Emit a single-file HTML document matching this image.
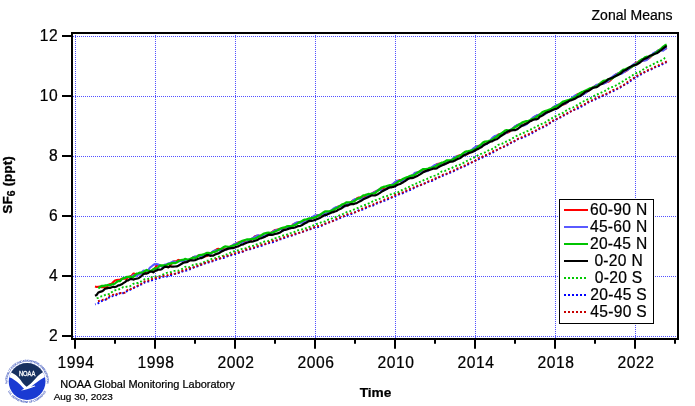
<!DOCTYPE html>
<html><head><meta charset="utf-8"><title>Zonal Means SF6</title>
<style>
html,body{margin:0;padding:0;background:#fff;}
body{width:695px;height:406px;overflow:hidden;}
svg{display:block;font-family:"Liberation Sans",Helvetica,Arial,sans-serif;}
svg>text,.tk text,.lg{stroke:#000;stroke-width:0.22px;}
.tk{font-size:15.6px;fill:#000;letter-spacing:0.6px;}
.lg{font-size:15.6px;letter-spacing:0.3px;fill:#000;text-anchor:middle;}
</style></head><body>
<svg width="695" height="406" viewBox="0 0 695 406">
<rect x="0" y="0" width="695" height="406" fill="#fff"/>

<g stroke="#5050ff" stroke-width="1" stroke-dasharray="1 1" shape-rendering="crispEdges" fill="none">
<line x1="75.5" y1="35" x2="75.5" y2="338"/>
<line x1="155.5" y1="35" x2="155.5" y2="338"/>
<line x1="235.5" y1="35" x2="235.5" y2="338"/>
<line x1="315.5" y1="35" x2="315.5" y2="338"/>
<line x1="395.5" y1="35" x2="395.5" y2="338"/>
<line x1="475.5" y1="35" x2="475.5" y2="338"/>
<line x1="555.5" y1="35" x2="555.5" y2="338"/>
<line x1="635.5" y1="35" x2="635.5" y2="338"/>
<line x1="73" y1="36.5" x2="677" y2="36.5"/>
<line x1="73" y1="96.5" x2="677" y2="96.5"/>
<line x1="73" y1="156.5" x2="677" y2="156.5"/>
<line x1="73" y1="216.5" x2="677" y2="216.5"/>
<line x1="73" y1="276.5" x2="677" y2="276.5"/>
<line x1="73" y1="336.5" x2="677" y2="336.5"/>
</g>
<g fill="none" stroke-width="2" stroke-linejoin="round">
<path d="M95.0 286.5 L96.7 287.0 L98.3 286.7 L100.0 286.5 L101.7 287.3 L103.3 287.0 L105.0 287.2 L106.7 287.5 L108.3 285.2 L110.0 284.0 L111.7 283.7 L113.3 282.1 L115.0 280.5 L116.7 280.0 L118.3 279.8 L120.0 279.9 L121.7 278.7 L123.3 278.5 L125.0 278.8 L126.7 279.0 L128.3 276.9 L130.0 276.5 L131.7 275.7 L133.3 273.6 L135.0 273.9 L136.7 274.3 L138.3 273.9 L140.0 274.1 L141.7 272.7 L143.3 273.1 L145.0 273.2 L146.7 272.4 L148.3 272.5 L150.0 271.3 L151.7 271.0 L153.3 269.5 L155.0 268.0 L156.7 265.7 L158.3 265.1 L160.0 265.9 L161.7 266.0 L163.3 266.3 L165.0 266.4 L166.7 266.9 L168.3 267.1 L170.0 266.0 L171.7 263.6 L173.3 261.5 L175.0 261.4 L176.7 261.0 L178.3 259.9 L180.0 260.3 L181.7 260.8 L183.3 261.1 L185.0 261.4 L186.7 261.5 L188.3 261.2 L190.0 259.8 L191.7 258.5 L193.3 257.2 L195.0 256.9 L196.7 256.8 L198.3 255.7 L200.0 254.9 L201.7 255.7 L203.3 256.4 L205.0 256.5 L206.7 256.1 L208.3 255.3 L210.0 254.3 L211.7 252.5 L213.3 251.6 L215.0 250.5 L216.7 249.3 L218.3 248.8 L220.0 249.2 L221.7 249.2 L223.3 249.1 L225.0 249.5 L226.7 249.5 L228.3 248.2 L230.0 246.9 L231.7 246.0 L233.3 245.1 L235.0 244.0 L236.7 243.2 L238.3 242.5 L240.0 241.8 L241.7 241.7 L243.3 242.0 L245.0 242.1 L246.7 241.8 L248.3 241.4 L250.0 240.6 L251.7 239.5 L253.3 238.0 L255.0 236.2 L256.7 235.8 L258.3 235.9 L260.0 235.9 L261.7 236.0 L263.3 235.7 L265.0 235.7 L266.7 235.8 L268.3 234.9 L270.0 233.8 L271.7 232.3 L273.3 231.1 L275.0 230.0 L276.7 229.7 L278.3 229.4 L280.0 229.0 L281.7 228.8 L283.3 229.1 L285.0 229.6 L286.7 229.0 L288.3 228.2 L290.0 227.4 L291.7 226.1 L293.3 224.3 L295.0 223.7 L296.7 223.1 L298.3 222.2 L300.0 222.0 L301.7 222.0 L303.3 221.8 L305.0 221.7 L306.7 221.3 L308.3 220.5 L310.0 219.7 L311.7 218.8 L313.3 217.5 L315.0 216.3 L316.7 215.3 L318.3 215.2 L320.0 215.1 L321.7 214.6 L323.3 214.9 L325.0 214.8 L326.7 213.8 L328.3 212.9 L330.0 211.7 L331.7 210.6 L333.3 209.6 L335.0 208.4 L336.7 207.2 L338.3 206.5 L340.0 206.3 L341.7 206.2 L343.3 206.3 L345.0 206.0 L346.7 205.8 L348.3 204.6 L350.0 203.0 L351.7 201.5 L353.3 200.3 L355.0 199.8 L356.7 198.5 L358.3 197.6 L360.0 197.5 L361.7 198.0 L363.3 197.6 L365.0 197.1 L366.7 197.4 L368.3 196.2 L370.0 194.9 L371.7 194.0 L373.3 192.6 L375.0 191.7 L376.7 190.9 L378.3 190.1 L380.0 189.5 L381.7 189.2 L383.3 189.0 L385.0 189.2 L386.7 188.6 L388.3 187.3 L390.0 186.4 L391.7 185.5 L393.3 183.8 L395.0 182.6 L396.7 181.5 L398.3 180.7 L400.0 180.1 L401.7 180.5 L403.3 181.0 L405.0 180.6 L406.7 179.4 L408.3 178.5 L410.0 177.1 L411.7 175.9 L413.3 174.8 L415.0 173.2 L416.7 172.8 L418.3 172.3 L420.0 171.2 L421.7 171.7 L423.3 171.2 L425.0 170.8 L426.7 170.8 L428.3 170.4 L430.0 169.0 L431.7 168.2 L433.3 167.1 L435.0 165.6 L436.7 164.3 L438.3 163.8 L440.0 163.6 L441.7 163.9 L443.3 164.1 L445.0 164.1 L446.7 163.4 L448.3 162.3 L450.0 161.3 L451.7 160.0 L453.3 158.8 L455.0 157.6 L456.7 156.5 L458.3 155.7 L460.0 155.2 L461.7 154.9 L463.3 154.5 L465.0 154.7 L466.7 154.4 L468.3 153.6 L470.0 152.1 L471.7 150.5 L473.3 149.3 L475.0 147.8 L476.7 146.5 L478.3 146.0 L480.0 145.5 L481.7 144.9 L483.3 144.7 L485.0 144.2 L486.7 143.2 L488.3 142.3 L490.0 141.4 L491.7 140.0 L493.3 138.2 L495.0 137.0 L496.7 136.1 L498.3 134.6 L500.0 134.1 L501.7 134.0 L503.3 134.0 L505.0 133.3 L506.7 133.0 L508.3 132.3 L510.0 131.3 L511.7 129.6 L513.3 128.1 L515.0 126.7 L516.7 125.5 L518.3 124.8 L520.0 124.4 L521.7 124.6 L523.3 124.7 L525.0 124.0 L526.7 123.1 L528.3 121.9 L530.0 121.0 L531.7 120.2 L533.3 118.2 L535.0 116.4 L536.7 115.7 L538.3 115.2 L540.0 114.6 L541.7 114.4 L543.3 113.9 L545.0 113.5 L546.7 112.5 L548.3 111.8 L550.0 110.9 L551.7 109.1 L553.3 107.5 L555.0 106.5 L556.7 105.7 L558.3 105.2 L560.0 104.1 L561.7 104.2 L563.3 104.6 L565.0 104.1 L566.7 102.8 L568.3 101.5 L570.0 100.3 L571.7 98.9 L573.3 97.9 L575.0 96.5 L576.7 94.8 L578.3 94.0 L580.0 93.6 L581.7 93.2 L583.3 93.6 L585.0 93.1 L586.7 91.9 L588.3 90.8 L590.0 89.9 L591.7 88.3 L593.3 87.3 L595.0 86.0 L596.7 85.2 L598.3 84.7 L600.0 83.8 L601.7 83.3 L603.3 83.3 L605.0 82.9 L606.7 82.0 L608.3 81.8 L610.0 80.7 L611.7 79.0 L613.3 77.2 L615.0 75.1 L616.7 74.0 L618.3 73.6 L620.0 72.7 L621.7 71.5 L623.3 71.9 L625.0 71.7 L626.7 70.6 L628.3 69.3 L630.0 68.2 L631.7 67.0 L633.3 65.4 L635.0 63.5 L636.7 62.5 L638.3 61.9 L640.0 60.7 L641.7 60.3 L643.3 60.4 L645.0 60.1 L646.7 59.4 L648.3 58.7 L650.0 57.5 L651.7 55.6 L653.3 54.2 L655.0 52.6 L656.7 51.6 L658.3 50.5 L660.0 49.6 L661.7 48.9 L663.3 49.3 L665.0 49.1 L666.7 48.0" stroke="#ff0000" stroke-width="2.1"/>
<path d="M131.7 276.7 L133.3 275.4 L135.0 275.6 L136.7 275.8 L138.3 274.4 L140.0 274.4 L141.7 272.5 L143.3 270.6 L145.0 270.7 L146.7 271.3 L148.3 270.1 L150.0 267.5 L151.7 266.3 L153.3 265.0 L155.0 264.0 L156.7 264.1 L158.3 264.5 L160.0 265.5 L161.7 266.7 L163.3 266.0 L165.0 264.6 L166.7 264.2 L168.3 263.5 L170.0 263.1 L171.7 262.2 L173.3 261.6 L175.0 262.0 L176.7 261.8 L178.3 261.8 L180.0 261.0 L181.7 261.2 L183.3 261.1 L185.0 260.5 L186.7 260.3 L188.3 260.0 L190.0 259.1 L191.7 258.7 L193.3 257.2 L195.0 256.6 L196.7 256.6 L198.3 255.7 L200.0 256.1 L201.7 256.1 L203.3 256.2 L205.0 255.5 L206.7 255.0 L208.3 255.0 L210.0 254.2 L211.7 252.5 L213.3 251.0 L215.0 250.6 L216.7 250.2 L218.3 250.0 L220.0 250.8 L221.7 250.6 L223.3 250.4 L225.0 249.7 L226.7 249.3 L228.3 248.5 L230.0 247.2 L231.7 246.1 L233.3 244.7 L235.0 243.9 L236.7 243.3 L238.3 243.0 L240.0 242.6 L241.7 242.8 L243.3 242.7 L245.0 242.5 L246.7 242.2 L248.3 241.0 L250.0 239.7 L251.7 238.7 L253.3 237.8 L255.0 236.9 L256.7 235.8 L258.3 235.3 L260.0 236.1 L261.7 236.2 L263.3 236.2 L265.0 235.7 L266.7 235.0 L268.3 234.4 L270.0 234.3 L271.7 232.8 L273.3 231.5 L275.0 230.5 L276.7 230.1 L278.3 229.8 L280.0 229.3 L281.7 229.3 L283.3 230.6 L285.0 229.9 L286.7 228.8 L288.3 227.9 L290.0 227.0 L291.7 226.1 L293.3 224.8 L295.0 223.2 L296.7 222.4 L298.3 222.6 L300.0 222.9 L301.7 222.8 L303.3 222.6 L305.0 222.1 L306.7 221.5 L308.3 220.7 L310.0 219.5 L311.7 218.3 L313.3 216.5 L315.0 215.5 L316.7 215.5 L318.3 215.1 L320.0 215.1 L321.7 214.5 L323.3 214.3 L325.0 214.1 L326.7 213.3 L328.3 212.6 L330.0 211.5 L331.7 210.1 L333.3 208.7 L335.0 207.7 L336.7 207.0 L338.3 206.7 L340.0 206.1 L341.7 206.0 L343.3 206.5 L345.0 206.4 L346.7 204.9 L348.3 203.6 L350.0 202.9 L351.7 202.0 L353.3 200.2 L355.0 199.0 L356.7 199.2 L358.3 198.6 L360.0 198.5 L361.7 198.7 L363.3 198.3 L365.0 198.2 L366.7 197.0 L368.3 195.5 L370.0 194.6 L371.7 193.9 L373.3 193.0 L375.0 192.0 L376.7 191.1 L378.3 189.8 L380.0 190.0 L381.7 190.4 L383.3 190.4 L385.0 189.8 L386.7 188.9 L388.3 187.6 L390.0 185.7 L391.7 184.8 L393.3 183.7 L395.0 182.1 L396.7 180.9 L398.3 180.7 L400.0 181.1 L401.7 180.9 L403.3 180.6 L405.0 180.0 L406.7 179.4 L408.3 178.8 L410.0 177.5 L411.7 175.7 L413.3 174.5 L415.0 172.8 L416.7 172.4 L418.3 172.5 L420.0 172.3 L421.7 172.2 L423.3 171.8 L425.0 171.2 L426.7 171.3 L428.3 170.5 L430.0 168.6 L431.7 167.2 L433.3 166.0 L435.0 165.0 L436.7 164.5 L438.3 164.2 L440.0 164.6 L441.7 164.6 L443.3 164.7 L445.0 164.3 L446.7 163.0 L448.3 162.1 L450.0 161.6 L451.7 160.1 L453.3 158.1 L455.0 156.8 L456.7 156.6 L458.3 156.4 L460.0 156.1 L461.7 155.0 L463.3 154.9 L465.0 154.5 L466.7 153.7 L468.3 152.5 L470.0 151.2 L471.7 150.0 L473.3 148.4 L475.0 147.3 L476.7 146.4 L478.3 146.4 L480.0 146.2 L481.7 145.4 L483.3 144.8 L485.0 144.6 L486.7 144.0 L488.3 142.6 L490.0 140.8 L491.7 138.6 L493.3 137.1 L495.0 136.0 L496.7 135.5 L498.3 135.2 L500.0 134.3 L501.7 133.8 L503.3 133.9 L505.0 133.5 L506.7 132.5 L508.3 131.6 L510.0 130.1 L511.7 129.1 L513.3 127.9 L515.0 126.3 L516.7 125.3 L518.3 124.6 L520.0 125.0 L521.7 125.2 L523.3 125.4 L525.0 125.2 L526.7 124.2 L528.3 122.3 L530.0 121.0 L531.7 118.8 L533.3 117.2 L535.0 116.4 L536.7 115.3 L538.3 114.9 L540.0 114.7 L541.7 114.7 L543.3 114.3 L545.0 114.1 L546.7 112.9 L548.3 111.8 L550.0 110.3 L551.7 108.5 L553.3 107.2 L555.0 106.1 L556.7 105.0 L558.3 104.7 L560.0 104.9 L561.7 104.3 L563.3 103.8 L565.0 103.6 L566.7 102.7 L568.3 101.6 L570.0 99.6 L571.7 98.3 L573.3 96.9 L575.0 95.5 L576.7 94.9 L578.3 94.5 L580.0 94.7 L581.7 94.6 L583.3 94.4 L585.0 93.3 L586.7 92.0 L588.3 90.8 L590.0 89.5 L591.7 88.6 L593.3 87.4 L595.0 86.0 L596.7 84.8 L598.3 84.4 L600.0 84.2 L601.7 83.9 L603.3 83.8 L605.0 83.1 L606.7 81.9 L608.3 81.0 L610.0 79.3 L611.7 77.3 L613.3 76.1 L615.0 75.0 L616.7 74.1 L618.3 73.3 L620.0 73.9 L621.7 73.7 L623.3 72.7 L625.0 71.2 L626.7 70.3 L628.3 69.5 L630.0 68.1 L631.7 66.1 L633.3 64.5 L635.0 63.7 L636.7 63.2 L638.3 62.4 L640.0 61.5 L641.7 61.1 L643.3 60.8 L645.0 60.5 L646.7 59.9 L648.3 58.3 L650.0 56.8 L651.7 54.9 L653.3 53.3 L655.0 52.5 L656.7 51.6 L658.3 50.3 L660.0 50.0 L661.7 50.4 L663.3 50.6 L665.0 49.0 L666.7 47.4" stroke="#5a5aff" stroke-width="2.1"/>
<path d="M98.3 288.4 L100.0 287.1 L101.7 285.8 L103.3 286.0 L105.0 285.5 L106.7 285.3 L108.3 284.9 L110.0 285.3 L111.7 284.4 L113.3 284.2 L115.0 283.5 L116.7 282.0 L118.3 281.1 L120.0 281.2 L121.7 279.2 L123.3 278.2 L125.0 277.9 L126.7 276.9 L128.3 276.8 L130.0 276.6 L131.7 277.4 L133.3 277.1 L135.0 275.1 L136.7 273.6 L138.3 273.3 L140.0 272.7 L141.7 272.6 L143.3 272.3 L145.0 270.9 L146.7 269.9 L148.3 270.9 L150.0 270.8 L151.7 270.7 L153.3 269.3 L155.0 268.4 L156.7 268.4 L158.3 267.2 L160.0 265.5 L161.7 265.3 L163.3 265.5 L165.0 265.4 L166.7 265.0 L168.3 263.9 L170.0 263.8 L171.7 263.2 L173.3 262.9 L175.0 263.2 L176.7 262.5 L178.3 261.2 L180.0 260.5 L181.7 260.0 L183.3 259.9 L185.0 258.9 L186.7 259.3 L188.3 259.8 L190.0 259.1 L191.7 258.2 L193.3 257.5 L195.0 257.9 L196.7 257.4 L198.3 255.7 L200.0 255.2 L201.7 254.8 L203.3 254.5 L205.0 253.8 L206.7 252.9 L208.3 253.0 L210.0 253.2 L211.7 252.8 L213.3 252.0 L215.0 251.8 L216.7 250.9 L218.3 250.0 L220.0 249.2 L221.7 248.5 L223.3 247.3 L225.0 246.5 L226.7 246.6 L228.3 246.8 L230.0 246.6 L231.7 246.0 L233.3 245.6 L235.0 245.0 L236.7 244.3 L238.3 243.6 L240.0 242.2 L241.7 241.2 L243.3 240.6 L245.0 240.0 L246.7 239.5 L248.3 239.5 L250.0 239.5 L251.7 238.9 L253.3 238.8 L255.0 238.6 L256.7 237.9 L258.3 236.8 L260.0 235.9 L261.7 234.9 L263.3 233.9 L265.0 233.3 L266.7 232.8 L268.3 232.7 L270.0 232.9 L271.7 232.7 L273.3 232.3 L275.0 231.5 L276.7 230.8 L278.3 230.0 L280.0 228.8 L281.7 228.1 L283.3 227.7 L285.0 227.4 L286.7 226.5 L288.3 226.2 L290.0 226.1 L291.7 226.1 L293.3 225.7 L295.0 224.9 L296.7 224.0 L298.3 223.1 L300.0 222.1 L301.7 221.2 L303.3 220.2 L305.0 219.7 L306.7 219.4 L308.3 218.7 L310.0 218.3 L311.7 218.1 L313.3 217.9 L315.0 217.4 L316.7 216.7 L318.3 215.5 L320.0 214.9 L321.7 213.6 L323.3 212.5 L325.0 211.5 L326.7 211.3 L328.3 211.3 L330.0 211.1 L331.7 210.5 L333.3 209.7 L335.0 208.9 L336.7 208.1 L338.3 207.2 L340.0 205.9 L341.7 204.7 L343.3 204.2 L345.0 203.3 L346.7 202.3 L348.3 202.3 L350.0 202.3 L351.7 201.8 L353.3 201.6 L355.0 200.7 L356.7 199.2 L358.3 198.3 L360.0 198.0 L361.7 196.6 L363.3 195.4 L365.0 195.2 L366.7 194.6 L368.3 194.0 L370.0 194.1 L371.7 193.7 L373.3 193.4 L375.0 193.0 L376.7 191.6 L378.3 190.4 L380.0 188.9 L381.7 187.5 L383.3 187.0 L385.0 186.7 L386.7 186.0 L388.3 185.6 L390.0 185.2 L391.7 185.4 L393.3 185.1 L395.0 184.3 L396.7 182.8 L398.3 181.6 L400.0 180.7 L401.7 179.7 L403.3 178.8 L405.0 178.1 L406.7 177.4 L408.3 176.8 L410.0 175.9 L411.7 175.7 L413.3 175.6 L415.0 174.7 L416.7 173.2 L418.3 172.2 L420.0 171.2 L421.7 170.0 L423.3 169.1 L425.0 169.1 L426.7 168.9 L428.3 168.6 L430.0 167.9 L431.7 167.7 L433.3 167.4 L435.0 166.7 L436.7 165.6 L438.3 164.8 L440.0 163.8 L441.7 162.6 L443.3 162.3 L445.0 161.6 L446.7 160.3 L448.3 160.5 L450.0 160.5 L451.7 160.1 L453.3 159.3 L455.0 158.2 L456.7 157.2 L458.3 156.2 L460.0 155.5 L461.7 154.6 L463.3 153.1 L465.0 151.9 L466.7 151.4 L468.3 151.2 L470.0 150.8 L471.7 150.5 L473.3 149.9 L475.0 149.3 L476.7 148.1 L478.3 146.7 L480.0 145.3 L481.7 143.8 L483.3 142.3 L485.0 141.6 L486.7 141.5 L488.3 141.1 L490.0 140.6 L491.7 140.0 L493.3 138.9 L495.0 137.8 L496.7 136.7 L498.3 135.5 L500.0 134.2 L501.7 133.1 L503.3 132.1 L505.0 130.7 L506.7 130.2 L508.3 130.3 L510.0 130.1 L511.7 129.5 L513.3 128.5 L515.0 127.4 L516.7 126.3 L518.3 125.2 L520.0 124.0 L521.7 122.9 L523.3 122.1 L525.0 121.5 L526.7 121.2 L528.3 121.1 L530.0 120.2 L531.7 119.1 L533.3 119.0 L535.0 118.2 L536.7 116.7 L538.3 115.7 L540.0 114.5 L541.7 112.8 L543.3 111.8 L545.0 111.1 L546.7 110.7 L548.3 110.0 L550.0 109.4 L551.7 108.7 L553.3 107.9 L555.0 107.1 L556.7 106.2 L558.3 105.1 L560.0 104.2 L561.7 102.7 L563.3 101.5 L565.0 101.0 L566.7 100.5 L568.3 100.0 L570.0 99.6 L571.7 98.8 L573.3 98.1 L575.0 97.4 L576.7 96.1 L578.3 94.5 L580.0 93.2 L581.7 92.1 L583.3 91.5 L585.0 90.8 L586.7 90.1 L588.3 89.2 L590.0 88.3 L591.7 87.9 L593.3 87.3 L595.0 86.8 L596.7 86.5 L598.3 85.2 L600.0 83.7 L601.7 82.1 L603.3 81.0 L605.0 80.7 L606.7 80.0 L608.3 79.3 L610.0 79.1 L611.7 78.6 L613.3 77.7 L615.0 76.4 L616.7 75.4 L618.3 73.8 L620.0 72.4 L621.7 70.9 L623.3 69.7 L625.0 69.3 L626.7 68.6 L628.3 67.8 L630.0 67.4 L631.7 66.8 L633.3 65.7 L635.0 64.7 L636.7 63.9 L638.3 62.4 L640.0 60.6 L641.7 59.4 L643.3 58.9 L645.0 57.4 L646.7 56.7 L648.3 56.8 L650.0 56.4 L651.7 55.3 L653.3 54.6 L655.0 53.4 L656.7 52.1 L658.3 51.0 L660.0 49.6 L661.7 48.1 L663.3 46.6 L665.0 45.4 L666.7 44.6" stroke="#00c400" stroke-width="2.3"/>
<path d="M95.0 295.7 L96.7 294.9 L98.3 292.5 L100.0 291.9 L101.7 291.4 L103.3 290.6 L105.0 288.8 L106.7 288.4 L108.3 288.0 L110.0 287.9 L111.7 287.2 L113.3 286.7 L115.0 287.1 L116.7 286.4 L118.3 285.3 L120.0 285.1 L121.7 284.3 L123.3 283.2 L125.0 282.1 L126.7 280.6 L128.3 280.3 L130.0 279.1 L131.7 278.9 L133.3 279.6 L135.0 279.0 L136.7 278.7 L138.3 278.3 L140.0 277.1 L141.7 275.8 L143.3 274.2 L145.0 273.4 L146.7 273.6 L148.3 272.9 L150.0 271.7 L151.7 271.5 L153.3 272.4 L155.0 271.0 L156.7 270.4 L158.3 269.6 L160.0 269.7 L161.7 269.2 L163.3 267.9 L165.0 266.7 L166.7 266.9 L168.3 267.3 L170.0 266.3 L171.7 266.7 L173.3 266.6 L175.0 266.5 L176.7 266.4 L178.3 265.7 L180.0 264.8 L181.7 263.8 L183.3 262.8 L185.0 262.4 L186.7 262.2 L188.3 261.3 L190.0 260.4 L191.7 260.3 L193.3 260.4 L195.0 260.1 L196.7 259.5 L198.3 258.8 L200.0 258.2 L201.7 258.1 L203.3 257.3 L205.0 256.0 L206.7 255.1 L208.3 255.1 L210.0 255.8 L211.7 255.6 L213.3 255.6 L215.0 254.5 L216.7 253.9 L218.3 253.4 L220.0 252.6 L221.7 251.4 L223.3 250.8 L225.0 249.7 L226.7 249.1 L228.3 248.6 L230.0 248.3 L231.7 248.2 L233.3 248.1 L235.0 247.4 L236.7 246.8 L238.3 246.4 L240.0 245.4 L241.7 244.6 L243.3 244.3 L245.0 243.4 L246.7 242.7 L248.3 242.3 L250.0 241.7 L251.7 241.6 L253.3 241.3 L255.0 240.7 L256.7 240.2 L258.3 239.4 L260.0 238.4 L261.7 238.1 L263.3 237.4 L265.0 236.8 L266.7 235.7 L268.3 234.9 L270.0 234.6 L271.7 234.9 L273.3 234.6 L275.0 233.9 L276.7 233.6 L278.3 233.1 L280.0 232.5 L281.7 231.3 L283.3 230.3 L285.0 229.8 L286.7 229.5 L288.3 228.9 L290.0 228.3 L291.7 228.0 L293.3 227.8 L295.0 227.5 L296.7 226.8 L298.3 226.1 L300.0 226.0 L301.7 225.3 L303.3 224.3 L305.0 223.3 L306.7 222.5 L308.3 221.4 L310.0 220.9 L311.7 220.8 L313.3 220.5 L315.0 219.9 L316.7 219.2 L318.3 218.6 L320.0 217.9 L321.7 216.8 L323.3 216.0 L325.0 214.9 L326.7 214.8 L328.3 213.9 L330.0 213.2 L331.7 212.4 L333.3 212.2 L335.0 211.3 L336.7 211.0 L338.3 209.7 L340.0 209.0 L341.7 208.2 L343.3 207.0 L345.0 205.6 L346.7 205.4 L348.3 205.4 L350.0 204.4 L351.7 204.1 L353.3 204.2 L355.0 203.4 L356.7 203.1 L358.3 202.1 L360.0 201.2 L361.7 200.4 L363.3 199.3 L365.0 198.6 L366.7 197.7 L368.3 197.1 L370.0 196.3 L371.7 195.4 L373.3 195.5 L375.0 195.4 L376.7 194.7 L378.3 193.9 L380.0 192.8 L381.7 191.7 L383.3 190.7 L385.0 189.8 L386.7 189.0 L388.3 188.0 L390.0 187.4 L391.7 187.3 L393.3 186.9 L395.0 186.2 L396.7 185.2 L398.3 184.5 L400.0 184.0 L401.7 183.0 L403.3 182.2 L405.0 181.1 L406.7 179.8 L408.3 178.8 L410.0 178.2 L411.7 178.1 L413.3 177.9 L415.0 177.0 L416.7 176.3 L418.3 175.4 L420.0 174.4 L421.7 173.3 L423.3 172.2 L425.0 171.4 L426.7 170.8 L428.3 170.1 L430.0 169.8 L431.7 169.3 L433.3 168.6 L435.0 168.6 L436.7 168.4 L438.3 167.2 L440.0 166.2 L441.7 165.4 L443.3 164.7 L445.0 163.9 L446.7 163.3 L448.3 162.6 L450.0 161.7 L451.7 161.6 L453.3 161.3 L455.0 160.6 L456.7 159.4 L458.3 158.7 L460.0 158.2 L461.7 157.0 L463.3 155.7 L465.0 154.7 L466.7 154.2 L468.3 153.1 L470.0 152.6 L471.7 152.2 L473.3 151.5 L475.0 150.5 L476.7 149.5 L478.3 148.9 L480.0 147.9 L481.7 147.0 L483.3 145.5 L485.0 144.3 L486.7 143.8 L488.3 142.7 L490.0 141.7 L491.7 141.5 L493.3 140.6 L495.0 139.7 L496.7 139.3 L498.3 138.2 L500.0 136.7 L501.7 135.5 L503.3 134.6 L505.0 133.1 L506.7 132.1 L508.3 131.2 L510.0 130.6 L511.7 130.3 L513.3 130.1 L515.0 130.1 L516.7 129.5 L518.3 128.5 L520.0 127.2 L521.7 125.9 L523.3 125.3 L525.0 124.2 L526.7 123.5 L528.3 122.6 L530.0 121.2 L531.7 120.6 L533.3 119.8 L535.0 119.4 L536.7 119.3 L538.3 118.5 L540.0 116.6 L541.7 115.9 L543.3 115.0 L545.0 113.4 L546.7 112.5 L548.3 111.9 L550.0 111.2 L551.7 110.4 L553.3 109.8 L555.0 109.1 L556.7 108.6 L558.3 107.7 L560.0 106.4 L561.7 105.1 L563.3 103.9 L565.0 103.1 L566.7 102.2 L568.3 101.4 L570.0 100.3 L571.7 100.1 L573.3 99.4 L575.0 98.8 L576.7 97.7 L578.3 96.7 L580.0 96.2 L581.7 94.9 L583.3 93.7 L585.0 92.0 L586.7 91.3 L588.3 90.9 L590.0 89.9 L591.7 88.6 L593.3 87.8 L595.0 87.4 L596.7 87.2 L598.3 86.1 L600.0 84.7 L601.7 84.0 L603.3 82.9 L605.0 81.9 L606.7 80.8 L608.3 79.3 L610.0 78.6 L611.7 78.0 L613.3 77.3 L615.0 76.4 L616.7 75.5 L618.3 74.9 L620.0 74.0 L621.7 72.7 L623.3 71.0 L625.0 70.2 L626.7 69.4 L628.3 68.1 L630.0 67.0 L631.7 66.1 L633.3 65.4 L635.0 65.2 L636.7 64.5 L638.3 63.5 L640.0 62.5 L641.7 61.0 L643.3 59.5 L645.0 58.6 L646.7 58.1 L648.3 57.0 L650.0 55.7 L651.7 55.3 L653.3 54.4 L655.0 53.7 L656.7 53.2 L658.3 52.3 L660.0 50.9 L661.7 49.8 L663.3 48.3 L665.0 47.0 L666.7 46.0" stroke="#000000" stroke-width="2.2"/>
<path d="M96.7 298.2 L98.3 297.8 L100.0 296.7 L101.7 296.3 L103.3 296.2 L105.0 295.0 L106.7 294.3 L108.3 294.2 L110.0 294.0 L111.7 292.2 L113.3 291.1 L115.0 290.3 L116.7 289.8 L118.3 289.7 L120.0 288.9 L121.7 288.2 L123.3 286.9 L125.0 287.0 L126.7 286.7 L128.3 286.9 L130.0 286.3 L131.7 285.1 L133.3 283.8 L135.0 283.1 L136.7 283.0 L138.3 283.0 L140.0 281.7 L141.7 281.3 L143.3 280.0 L145.0 279.1 L146.7 278.9 L148.3 278.8 L150.0 278.6 L151.7 277.1 L153.3 276.9 L155.0 276.6 L156.7 276.6 L158.3 276.2 L160.0 275.9 L161.7 275.2 L163.3 274.4 L165.0 273.7 L166.7 272.9 L168.3 272.6 L170.0 272.4 L171.7 271.8 L173.3 270.9 L175.0 270.9 L176.7 270.5 L178.3 270.7 L180.0 270.0 L181.7 269.1 L183.3 268.3 L185.0 266.9 L186.7 266.6 L188.3 267.3 L190.0 266.9 L191.7 265.9 L193.3 264.8 L195.0 264.3 L196.7 264.2 L198.3 264.1 L200.0 263.7 L201.7 263.5 L203.3 262.6 L205.0 261.4 L206.7 260.8 L208.3 260.6 L210.0 259.8 L211.7 258.9 L213.3 258.6 L215.0 258.2 L216.7 257.5 L218.3 256.9 L220.0 256.5 L221.7 256.1 L223.3 255.6 L225.0 254.9 L226.7 254.4 L228.3 253.5 L230.0 252.9 L231.7 252.3 L233.3 251.5 L235.0 251.0 L236.7 250.6 L238.3 250.3 L240.0 249.8 L241.7 249.0 L243.3 248.9 L245.0 248.5 L246.7 248.0 L248.3 247.2 L250.0 246.5 L251.7 245.9 L253.3 245.7 L255.0 245.4 L256.7 244.4 L258.3 243.7 L260.0 243.3 L261.7 242.8 L263.3 242.0 L265.0 241.4 L266.7 241.2 L268.3 241.0 L270.0 240.3 L271.7 239.7 L273.3 239.3 L275.0 238.4 L276.7 237.9 L278.3 237.2 L280.0 236.7 L281.7 236.1 L283.3 235.4 L285.0 235.2 L286.7 234.7 L288.3 233.9 L290.0 233.3 L291.7 232.9 L293.3 232.5 L295.0 231.7 L296.7 230.9 L298.3 230.2 L300.0 229.9 L301.7 229.5 L303.3 229.1 L305.0 228.6 L306.7 227.7 L308.3 227.0 L310.0 226.7 L311.7 226.2 L313.3 225.4 L315.0 224.5 L316.7 224.0 L318.3 223.4 L320.0 222.9 L321.7 222.2 L323.3 221.8 L325.0 221.4 L326.7 220.3 L328.3 219.6 L330.0 219.4 L331.7 218.5 L333.3 217.8 L335.0 217.3 L336.7 216.6 L338.3 216.1 L340.0 215.0 L341.7 214.2 L343.3 213.9 L345.0 213.1 L346.7 212.1 L348.3 211.6 L350.0 211.2 L351.7 210.6 L353.3 209.8 L355.0 209.0 L356.7 208.3 L358.3 207.9 L360.0 206.9 L361.7 206.2 L363.3 205.5 L365.0 205.0 L366.7 204.5 L368.3 203.7 L370.0 202.9 L371.7 202.0 L373.3 201.0 L375.0 200.2 L376.7 199.8 L378.3 199.3 L380.0 198.6 L381.7 197.7 L383.3 197.0 L385.0 196.6 L386.7 196.1 L388.3 195.5 L390.0 194.7 L391.7 194.1 L393.3 194.1 L395.0 193.1 L396.7 192.5 L398.3 192.1 L400.0 191.0 L401.7 190.2 L403.3 189.5 L405.0 188.9 L406.7 187.7 L408.3 187.2 L410.0 186.5 L411.7 185.5 L413.3 184.8 L415.0 184.0 L416.7 183.4 L418.3 183.1 L420.0 181.9 L421.7 181.2 L423.3 180.4 L425.0 179.6 L426.7 179.1 L428.3 178.2 L430.0 177.3 L431.7 176.7 L433.3 176.0 L435.0 175.6 L436.7 175.0 L438.3 174.1 L440.0 172.8 L441.7 171.5 L443.3 171.3 L445.0 170.9 L446.7 170.1 L448.3 169.2 L450.0 168.5 L451.7 168.1 L453.3 167.1 L455.0 166.4 L456.7 165.7 L458.3 165.5 L460.0 164.7 L461.7 163.6 L463.3 163.0 L465.0 162.0 L466.7 161.0 L468.3 160.3 L470.0 159.5 L471.7 158.7 L473.3 157.9 L475.0 157.2 L476.7 156.2 L478.3 154.8 L480.0 154.2 L481.7 153.7 L483.3 153.0 L485.0 152.4 L486.7 151.4 L488.3 150.5 L490.0 149.6 L491.7 149.2 L493.3 148.6 L495.0 147.4 L496.7 146.0 L498.3 144.8 L500.0 144.3 L501.7 143.9 L503.3 143.1 L505.0 142.3 L506.7 141.4 L508.3 140.7 L510.0 139.9 L511.7 138.7 L513.3 137.8 L515.0 137.0 L516.7 135.9 L518.3 134.9 L520.0 134.4 L521.7 133.7 L523.3 132.9 L525.0 132.4 L526.7 131.4 L528.3 130.8 L530.0 130.0 L531.7 128.9 L533.3 127.9 L535.0 127.4 L536.7 126.4 L538.3 125.7 L540.0 125.1 L541.7 123.9 L543.3 123.3 L545.0 122.6 L546.7 121.5 L548.3 120.4 L550.0 119.3 L551.7 118.4 L553.3 117.1 L555.0 116.4 L556.7 115.8 L558.3 114.9 L560.0 113.9 L561.7 113.5 L563.3 112.7 L565.0 111.4 L566.7 110.2 L568.3 109.3 L570.0 108.5 L571.7 107.8 L573.3 107.3 L575.0 106.3 L576.7 105.4 L578.3 104.2 L580.0 103.3 L581.7 102.5 L583.3 101.5 L585.0 100.7 L586.7 99.8 L588.3 99.0 L590.0 98.4 L591.7 97.7 L593.3 96.5 L595.0 95.3 L596.7 94.6 L598.3 94.0 L600.0 93.1 L601.7 92.4 L603.3 91.6 L605.0 90.9 L606.7 89.9 L608.3 88.7 L610.0 87.9 L611.7 87.2 L613.3 86.8 L615.0 86.0 L616.7 85.0 L618.3 84.0 L620.0 83.1 L621.7 82.0 L623.3 81.1 L625.0 79.8 L626.7 78.9 L628.3 78.2 L630.0 77.0 L631.7 75.9 L633.3 74.8 L635.0 74.0 L636.7 72.9 L638.3 72.1 L640.0 71.8 L641.7 70.8 L643.3 69.4 L645.0 68.3 L646.7 67.3 L648.3 66.6 L650.0 65.9 L651.7 64.9 L653.3 64.1 L655.0 63.3 L656.7 62.4 L658.3 61.5 L660.0 61.0 L661.7 60.3 L663.3 59.4 L665.0 58.0 L666.7 57.5" stroke="#00c800" stroke-width="1.9" stroke-dasharray="1.9 2.1" stroke-dashoffset="0"/>
<path d="M95.0 304.3 L96.7 304.0 L98.3 303.2 L100.0 302.2 L101.7 301.1 L103.3 300.4 L105.0 299.9 L106.7 299.5 L108.3 298.3 L110.0 296.8 L111.7 296.4 L113.3 296.1 L115.0 296.2 L116.7 294.7 L118.3 293.7 L120.0 293.3 L121.7 294.1 L123.3 292.9 L125.0 291.9 L126.7 291.4 L128.3 290.9 L130.0 289.9 L131.7 288.8 L133.3 288.2 L135.0 287.6 L136.7 286.7 L138.3 285.8 L140.0 284.8 L141.7 284.4 L143.3 283.7 L145.0 282.2 L146.7 282.2 L148.3 281.5 L150.0 281.1 L151.7 280.4 L153.3 279.9 L155.0 279.2 L156.7 279.0 L158.3 278.7 L160.0 277.7 L161.7 276.9 L163.3 276.8 L165.0 276.8 L166.7 276.7 L168.3 275.9 L170.0 275.3 L171.7 275.0 L173.3 274.2 L175.0 273.8 L176.7 273.4 L178.3 273.1 L180.0 272.6 L181.7 271.8 L183.3 271.1 L185.0 270.7 L186.7 270.6 L188.3 270.0 L190.0 269.3 L191.7 268.9 L193.3 267.7 L195.0 267.1 L196.7 266.7 L198.3 266.1 L200.0 265.3 L201.7 264.7 L203.3 263.7 L205.0 263.5 L206.7 263.3 L208.3 262.5 L210.0 262.1 L211.7 261.6 L213.3 261.0 L215.0 260.4 L216.7 259.7 L218.3 259.1 L220.0 258.6 L221.7 258.4 L223.3 258.1 L225.0 257.4 L226.7 256.6 L228.3 255.8 L230.0 255.2 L231.7 255.2 L233.3 254.6 L235.0 254.1 L236.7 253.6 L238.3 253.0 L240.0 252.5 L241.7 252.0 L243.3 251.5 L245.0 250.7 L246.7 249.9 L248.3 249.4 L250.0 249.3 L251.7 249.0 L253.3 248.3 L255.0 247.7 L256.7 247.0 L258.3 246.6 L260.0 246.1 L261.7 245.8 L263.3 245.1 L265.0 244.3 L266.7 243.5 L268.3 243.3 L270.0 242.9 L271.7 242.7 L273.3 242.1 L275.0 241.4 L276.7 240.7 L278.3 239.9 L280.0 239.4 L281.7 239.2 L283.3 238.4 L285.0 237.9 L286.7 236.9 L288.3 236.5 L290.0 236.1 L291.7 235.6 L293.3 235.0 L295.0 234.5 L296.7 234.0 L298.3 233.2 L300.0 232.6 L301.7 232.1 L303.3 231.6 L305.0 231.0 L306.7 230.4 L308.3 229.4 L310.0 229.4 L311.7 229.0 L313.3 228.1 L315.0 227.5 L316.7 227.4 L318.3 227.1 L320.0 226.5 L321.7 225.7 L323.3 225.0 L325.0 224.1 L326.7 223.2 L328.3 222.6 L330.0 222.2 L331.7 221.4 L333.3 220.6 L335.0 219.9 L336.7 219.6 L338.3 219.1 L340.0 218.1 L341.7 217.3 L343.3 216.8 L345.0 215.8 L346.7 215.2 L348.3 215.0 L350.0 214.7 L351.7 213.9 L353.3 213.1 L355.0 212.4 L356.7 211.9 L358.3 210.5 L360.0 209.8 L361.7 209.9 L363.3 209.6 L365.0 208.6 L366.7 207.6 L368.3 206.7 L370.0 206.2 L371.7 205.9 L373.3 205.5 L375.0 204.4 L376.7 203.6 L378.3 203.1 L380.0 202.4 L381.7 201.7 L383.3 201.2 L385.0 200.6 L386.7 199.7 L388.3 199.1 L390.0 198.1 L391.7 197.6 L393.3 196.8 L395.0 196.2 L396.7 195.4 L398.3 194.7 L400.0 193.9 L401.7 193.5 L403.3 193.0 L405.0 192.1 L406.7 191.4 L408.3 190.9 L410.0 190.1 L411.7 189.5 L413.3 188.5 L415.0 187.7 L416.7 186.8 L418.3 185.7 L420.0 185.3 L421.7 184.7 L423.3 184.0 L425.0 183.4 L426.7 182.8 L428.3 181.8 L430.0 181.2 L431.7 181.1 L433.3 180.1 L435.0 179.3 L436.7 178.5 L438.3 177.5 L440.0 176.9 L441.7 176.1 L443.3 175.6 L445.0 174.9 L446.7 174.0 L448.3 173.5 L450.0 172.8 L451.7 172.2 L453.3 171.4 L455.0 170.3 L456.7 169.6 L458.3 169.2 L460.0 168.3 L461.7 167.0 L463.3 166.7 L465.0 166.1 L466.7 165.1 L468.3 164.4 L470.0 163.6 L471.7 162.5 L473.3 161.6 L475.0 161.0 L476.7 160.0 L478.3 159.4 L480.0 158.7 L481.7 157.9 L483.3 157.1 L485.0 156.1 L486.7 155.4 L488.3 154.7 L490.0 153.8 L491.7 153.1 L493.3 152.3 L495.0 151.2 L496.7 150.2 L498.3 149.4 L500.0 148.3 L501.7 147.5 L503.3 147.0 L505.0 146.4 L506.7 145.6 L508.3 144.5 L510.0 143.4 L511.7 142.6 L513.3 142.2 L515.0 141.0 L516.7 139.9 L518.3 138.9 L520.0 138.5 L521.7 138.0 L523.3 137.5 L525.0 136.7 L526.7 135.9 L528.3 135.0 L530.0 134.2 L531.7 133.5 L533.3 132.3 L535.0 131.3 L536.7 130.4 L538.3 129.6 L540.0 128.5 L541.7 127.7 L543.3 127.3 L545.0 126.3 L546.7 125.5 L548.3 124.5 L550.0 123.3 L551.7 122.2 L553.3 120.9 L555.0 119.8 L556.7 119.3 L558.3 118.6 L560.0 117.7 L561.7 116.8 L563.3 115.8 L565.0 115.1 L566.7 114.0 L568.3 113.1 L570.0 112.0 L571.7 110.9 L573.3 110.0 L575.0 109.6 L576.7 109.1 L578.3 108.3 L580.0 107.2 L581.7 106.5 L583.3 105.7 L585.0 104.6 L586.7 103.7 L588.3 102.4 L590.0 101.3 L591.7 100.9 L593.3 100.2 L595.0 99.6 L596.7 98.6 L598.3 97.9 L600.0 97.4 L601.7 96.6 L603.3 95.4 L605.0 95.1 L606.7 94.4 L608.3 93.4 L610.0 92.5 L611.7 91.7 L613.3 91.1 L615.0 90.4 L616.7 89.3 L618.3 88.6 L620.0 87.8 L621.7 86.5 L623.3 85.5 L625.0 84.5 L626.7 83.7 L628.3 82.7 L630.0 81.4 L631.7 80.1 L633.3 78.9 L635.0 78.1 L636.7 77.0 L638.3 76.1 L640.0 75.0 L641.7 74.1 L643.3 73.2 L645.0 71.9 L646.7 71.2 L648.3 70.5 L650.0 70.0 L651.7 69.1 L653.3 68.1 L655.0 67.3 L656.7 66.7 L658.3 66.2 L660.0 65.8 L661.7 64.7 L663.3 63.9 L665.0 63.0 L666.7 62.1" stroke="#0000ff" stroke-width="1.9" stroke-dasharray="1.9 2.1" stroke-dashoffset="1.3"/>
<path d="M96.7 301.6 L98.3 301.2 L100.0 300.7 L101.7 300.2 L103.3 299.7 L105.0 299.5 L106.7 298.8 L108.3 297.3 L110.0 295.7 L111.7 295.1 L113.3 294.6 L115.0 295.1 L116.7 294.1 L118.3 293.2 L120.0 292.9 L121.7 293.3 L123.3 293.3 L125.0 292.6 L126.7 290.9 L128.3 289.0 L130.0 289.1 L131.7 289.0 L133.3 287.8 L135.0 286.9 L136.7 286.0 L138.3 285.4 L140.0 284.8 L141.7 283.5 L143.3 282.1 L145.0 281.3 L146.7 280.6 L148.3 280.6 L150.0 279.6 L151.7 279.1 L153.3 278.6 L155.0 277.9 L156.7 277.8 L158.3 277.4 L160.0 276.8 L161.7 276.4 L163.3 276.0 L165.0 275.5 L166.7 275.4 L168.3 275.0 L170.0 274.0 L171.7 274.0 L173.3 273.7 L175.0 273.7 L176.7 273.6 L178.3 272.7 L180.0 271.7 L181.7 271.0 L183.3 270.5 L185.0 269.8 L186.7 269.1 L188.3 268.6 L190.0 268.3 L191.7 267.8 L193.3 267.4 L195.0 266.7 L196.7 265.8 L198.3 265.6 L200.0 264.9 L201.7 264.3 L203.3 264.0 L205.0 263.0 L206.7 262.4 L208.3 261.9 L210.0 261.5 L211.7 261.1 L213.3 260.3 L215.0 259.6 L216.7 258.9 L218.3 258.6 L220.0 258.4 L221.7 257.4 L223.3 256.7 L225.0 256.3 L226.7 255.9 L228.3 255.6 L230.0 254.9 L231.7 254.3 L233.3 253.3 L235.0 253.3 L236.7 253.1 L238.3 252.4 L240.0 251.5 L241.7 251.4 L243.3 251.2 L245.0 250.0 L246.7 249.5 L248.3 249.1 L250.0 248.5 L251.7 248.3 L253.3 247.8 L255.0 246.9 L256.7 246.4 L258.3 245.8 L260.0 245.3 L261.7 244.6 L263.3 244.3 L265.0 244.1 L266.7 243.2 L268.3 242.6 L270.0 242.0 L271.7 241.4 L273.3 240.7 L275.0 240.6 L276.7 240.4 L278.3 239.6 L280.0 238.8 L281.7 238.4 L283.3 237.7 L285.0 236.9 L286.7 236.5 L288.3 235.8 L290.0 235.5 L291.7 235.3 L293.3 234.7 L295.0 233.9 L296.7 233.3 L298.3 233.0 L300.0 232.6 L301.7 232.0 L303.3 231.3 L305.0 230.8 L306.7 230.0 L308.3 229.0 L310.0 228.7 L311.7 228.4 L313.3 227.6 L315.0 226.7 L316.7 226.3 L318.3 226.0 L320.0 225.8 L321.7 225.2 L323.3 224.3 L325.0 223.6 L326.7 223.3 L328.3 222.6 L330.0 221.8 L331.7 221.5 L333.3 220.8 L335.0 219.7 L336.7 218.8 L338.3 218.1 L340.0 217.3 L341.7 216.5 L343.3 216.1 L345.0 215.5 L346.7 214.5 L348.3 213.8 L350.0 213.4 L351.7 213.1 L353.3 212.5 L355.0 212.2 L356.7 211.5 L358.3 211.0 L360.0 210.0 L361.7 208.9 L363.3 208.3 L365.0 207.4 L366.7 207.0 L368.3 206.5 L370.0 205.8 L371.7 205.1 L373.3 204.4 L375.0 203.4 L376.7 202.7 L378.3 202.3 L380.0 201.9 L381.7 200.9 L383.3 200.0 L385.0 199.4 L386.7 198.8 L388.3 198.0 L390.0 197.4 L391.7 197.2 L393.3 196.0 L395.0 195.1 L396.7 194.6 L398.3 194.1 L400.0 193.3 L401.7 192.6 L403.3 192.1 L405.0 191.2 L406.7 190.3 L408.3 189.4 L410.0 188.9 L411.7 188.4 L413.3 187.7 L415.0 186.8 L416.7 186.2 L418.3 185.5 L420.0 185.1 L421.7 184.5 L423.3 183.8 L425.0 183.2 L426.7 182.3 L428.3 181.4 L430.0 181.0 L431.7 180.2 L433.3 179.2 L435.0 178.5 L436.7 177.9 L438.3 177.4 L440.0 176.7 L441.7 175.6 L443.3 174.5 L445.0 174.1 L446.7 173.7 L448.3 172.7 L450.0 171.7 L451.7 171.1 L453.3 170.7 L455.0 169.7 L456.7 168.6 L458.3 168.3 L460.0 167.6 L461.7 167.0 L463.3 166.3 L465.0 165.3 L466.7 164.1 L468.3 163.4 L470.0 163.0 L471.7 162.3 L473.3 161.6 L475.0 160.9 L476.7 159.5 L478.3 158.3 L480.0 157.6 L481.7 157.1 L483.3 156.1 L485.0 155.3 L486.7 154.7 L488.3 154.0 L490.0 153.2 L491.7 152.1 L493.3 151.1 L495.0 150.8 L496.7 150.0 L498.3 148.8 L500.0 148.1 L501.7 147.7 L503.3 146.8 L505.0 145.9 L506.7 144.9 L508.3 143.8 L510.0 142.8 L511.7 142.2 L513.3 141.4 L515.0 140.6 L516.7 139.5 L518.3 138.6 L520.0 138.1 L521.7 137.3 L523.3 136.0 L525.0 135.4 L526.7 135.1 L528.3 134.5 L530.0 133.3 L531.7 132.2 L533.3 131.6 L535.0 130.9 L536.7 130.0 L538.3 128.8 L540.0 127.9 L541.7 127.4 L543.3 126.5 L545.0 125.5 L546.7 124.7 L548.3 123.8 L550.0 122.5 L551.7 121.5 L553.3 120.4 L555.0 119.4 L556.7 118.8 L558.3 117.9 L560.0 117.1 L561.7 116.2 L563.3 115.2 L565.0 114.4 L566.7 113.7 L568.3 112.3 L570.0 111.6 L571.7 111.1 L573.3 110.4 L575.0 109.1 L576.7 107.8 L578.3 106.8 L580.0 106.0 L581.7 105.4 L583.3 104.6 L585.0 104.0 L586.7 102.9 L588.3 101.8 L590.0 101.2 L591.7 100.4 L593.3 99.5 L595.0 98.5 L596.7 97.6 L598.3 97.1 L600.0 96.2 L601.7 95.8 L603.3 95.1 L605.0 94.3 L606.7 93.5 L608.3 92.7 L610.0 91.9 L611.7 91.0 L613.3 89.9 L615.0 89.4 L616.7 88.8 L618.3 87.8 L620.0 86.9 L621.7 86.1 L623.3 85.3 L625.0 84.1 L626.7 82.7 L628.3 81.4 L630.0 80.3 L631.7 79.3 L633.3 78.2 L635.0 77.3 L636.7 76.1 L638.3 74.9 L640.0 74.0 L641.7 73.1 L643.3 72.6 L645.0 71.8 L646.7 71.0 L648.3 69.9 L650.0 69.2 L651.7 68.6 L653.3 67.7 L655.0 66.8 L656.7 66.5 L658.3 65.5 L660.0 64.3 L661.7 63.6 L663.3 63.1 L665.0 62.5 L666.7 61.4" stroke="#c80000" stroke-width="1.9" stroke-dasharray="1.9 2.1" stroke-dashoffset="2.7"/>
</g>
<rect x="72" y="33" width="606" height="306" fill="none" stroke="#000" stroke-width="2"/>
<g stroke="#000" stroke-width="2">
<line x1="62" y1="36" x2="71.5" y2="36"/>
<line x1="62" y1="96" x2="71.5" y2="96"/>
<line x1="62" y1="156" x2="71.5" y2="156"/>
<line x1="62" y1="216" x2="71.5" y2="216"/>
<line x1="62" y1="276" x2="71.5" y2="276"/>
<line x1="62" y1="336" x2="71.5" y2="336"/>
<line x1="75" y1="339.5" x2="75" y2="348.8"/>
<line x1="155" y1="339.5" x2="155" y2="348.8"/>
<line x1="235" y1="339.5" x2="235" y2="348.8"/>
<line x1="315" y1="339.5" x2="315" y2="348.8"/>
<line x1="395" y1="339.5" x2="395" y2="348.8"/>
<line x1="475" y1="339.5" x2="475" y2="348.8"/>
<line x1="555" y1="339.5" x2="555" y2="348.8"/>
<line x1="635" y1="339.5" x2="635" y2="348.8"/>
<line x1="115" y1="339.5" x2="115" y2="343.7"/>
<line x1="195" y1="339.5" x2="195" y2="343.7"/>
<line x1="275" y1="339.5" x2="275" y2="343.7"/>
<line x1="355" y1="339.5" x2="355" y2="343.7"/>
<line x1="435" y1="339.5" x2="435" y2="343.7"/>
<line x1="515" y1="339.5" x2="515" y2="343.7"/>
<line x1="595" y1="339.5" x2="595" y2="343.7"/>
<line x1="675" y1="339.5" x2="675" y2="343.7"/>
</g>
<g class="tk" text-anchor="end">
<text x="58.3" y="41.2">12</text>
<text x="58.3" y="101.2">10</text>
<text x="58.3" y="161.2">8</text>
<text x="58.3" y="221.2">6</text>
<text x="58.3" y="281.2">4</text>
<text x="58.3" y="341.2">2</text>
</g>
<g class="tk" text-anchor="middle">
<text x="76.0" y="368">1994</text>
<text x="156.0" y="368">1998</text>
<text x="236.0" y="368">2002</text>
<text x="316.0" y="368">2006</text>
<text x="396.0" y="368">2010</text>
<text x="476.0" y="368">2014</text>
<text x="556.0" y="368">2018</text>
<text x="636.0" y="368">2022</text>
</g>
<text x="672.5" y="20" font-size="14" text-anchor="end">Zonal Means</text>
<text x="375.5" y="397" font-size="13.7" font-weight="bold" text-anchor="middle">Time</text>
<text transform="translate(11.9,184.9) rotate(-90)" font-size="13.7" font-weight="bold" text-anchor="middle" style="stroke-width:0.3px">SF<tspan font-size="10.4" dy="3.5">6</tspan><tspan dy="-3.5"> (ppt)</tspan></text>
<text x="60.3" y="387.7" font-size="10.95">NOAA Global Monitoring Laboratory</text>
<text x="53.7" y="399.8" font-size="9.95">Aug 30, 2023</text>
<rect x="559.5" y="199.5" width="94" height="124" fill="#fff" stroke="#000" stroke-width="1"/>
<line x1="564" y1="210" x2="588" y2="210" stroke="#ff0000" stroke-width="2"/>
<text class="lg" x="618.7" y="214.8">60-90 N</text>
<line x1="564" y1="227" x2="588" y2="227" stroke="#5a5aff" stroke-width="2"/>
<text class="lg" x="618.7" y="231.8">45-60 N</text>
<line x1="564" y1="244" x2="588" y2="244" stroke="#00c400" stroke-width="2"/>
<text class="lg" x="618.7" y="248.8">20-45 N</text>
<line x1="564" y1="261" x2="588" y2="261" stroke="#000" stroke-width="2"/>
<text class="lg" x="618.7" y="265.8">0-20 N</text>
<line x1="564" y1="278" x2="586" y2="278" stroke="#00c800" stroke-width="2" stroke-dasharray="2 2"/>
<text class="lg" x="618.7" y="282.8">0-20 S</text>
<line x1="564" y1="295" x2="586" y2="295" stroke="#0000ff" stroke-width="2" stroke-dasharray="2 2"/>
<text class="lg" x="618.7" y="299.8">20-45 S</text>
<line x1="564" y1="312" x2="586" y2="312" stroke="#c80000" stroke-width="2" stroke-dasharray="2 2"/>
<text class="lg" x="618.7" y="316.8">45-90 S</text>
<g id="noaa" transform="translate(27.1,381.5)">
<defs>
<clipPath id="lc"><circle r="18.4"/></clipPath>
<path id="arcT" d="M-18.5 6.73 A19.7 19.7 0 1 1 18.5 6.73"/>
<path id="arcB" d="M-21.5 0 A21.5 21.5 0 0 0 21.5 0"/>
</defs>
<g clip-path="url(#lc)">
<rect x="-19" y="-19" width="38" height="38" fill="#1a3ad2"/>
<path d="M-19 -4.5 C-14 -3.5 -9 1 -5 5.2 C-4 6.3 -3.5 7 -3 7.3 L-6.2 9 C-2 8.8 3 7 8.3 4.8 L7.5 4 C6 4.6 4.5 5.2 3.2 5.6 C7 3.5 11 -1 19 -5 L19 -20 L-19 -20 Z" fill="#fff"/>
<path d="M-19 -10 C-13 -8.5 -9 -5 -6.5 -1.5 C-4.5 1.5 -2.5 4 -0.5 5.3 C2 3.8 5.5 0.5 8.5 -3 C11.5 -6.5 14.5 -9 19 -10.5 L19 -20 L-19 -20 Z" fill="#17305f"/>
</g>
<text font-size="6.8" fill="#fff" stroke="#fff" stroke-width="0.3" text-anchor="middle" x="0" y="-5.5" textLength="16.4" lengthAdjust="spacingAndGlyphs">NOAA</text>
<text font-size="3" fill="#3f57bd" font-weight="bold"><textPath href="#arcT" startOffset="50%" text-anchor="middle" textLength="66">NATIONAL OCEANIC AND ATMOSPHERIC ADMINISTRATION</textPath></text>
<text font-size="3" fill="#3f57bd" font-weight="bold"><textPath href="#arcB" startOffset="50%" text-anchor="middle" textLength="47">U.S. DEPARTMENT OF COMMERCE</textPath></text>
</g>

</svg></body></html>
